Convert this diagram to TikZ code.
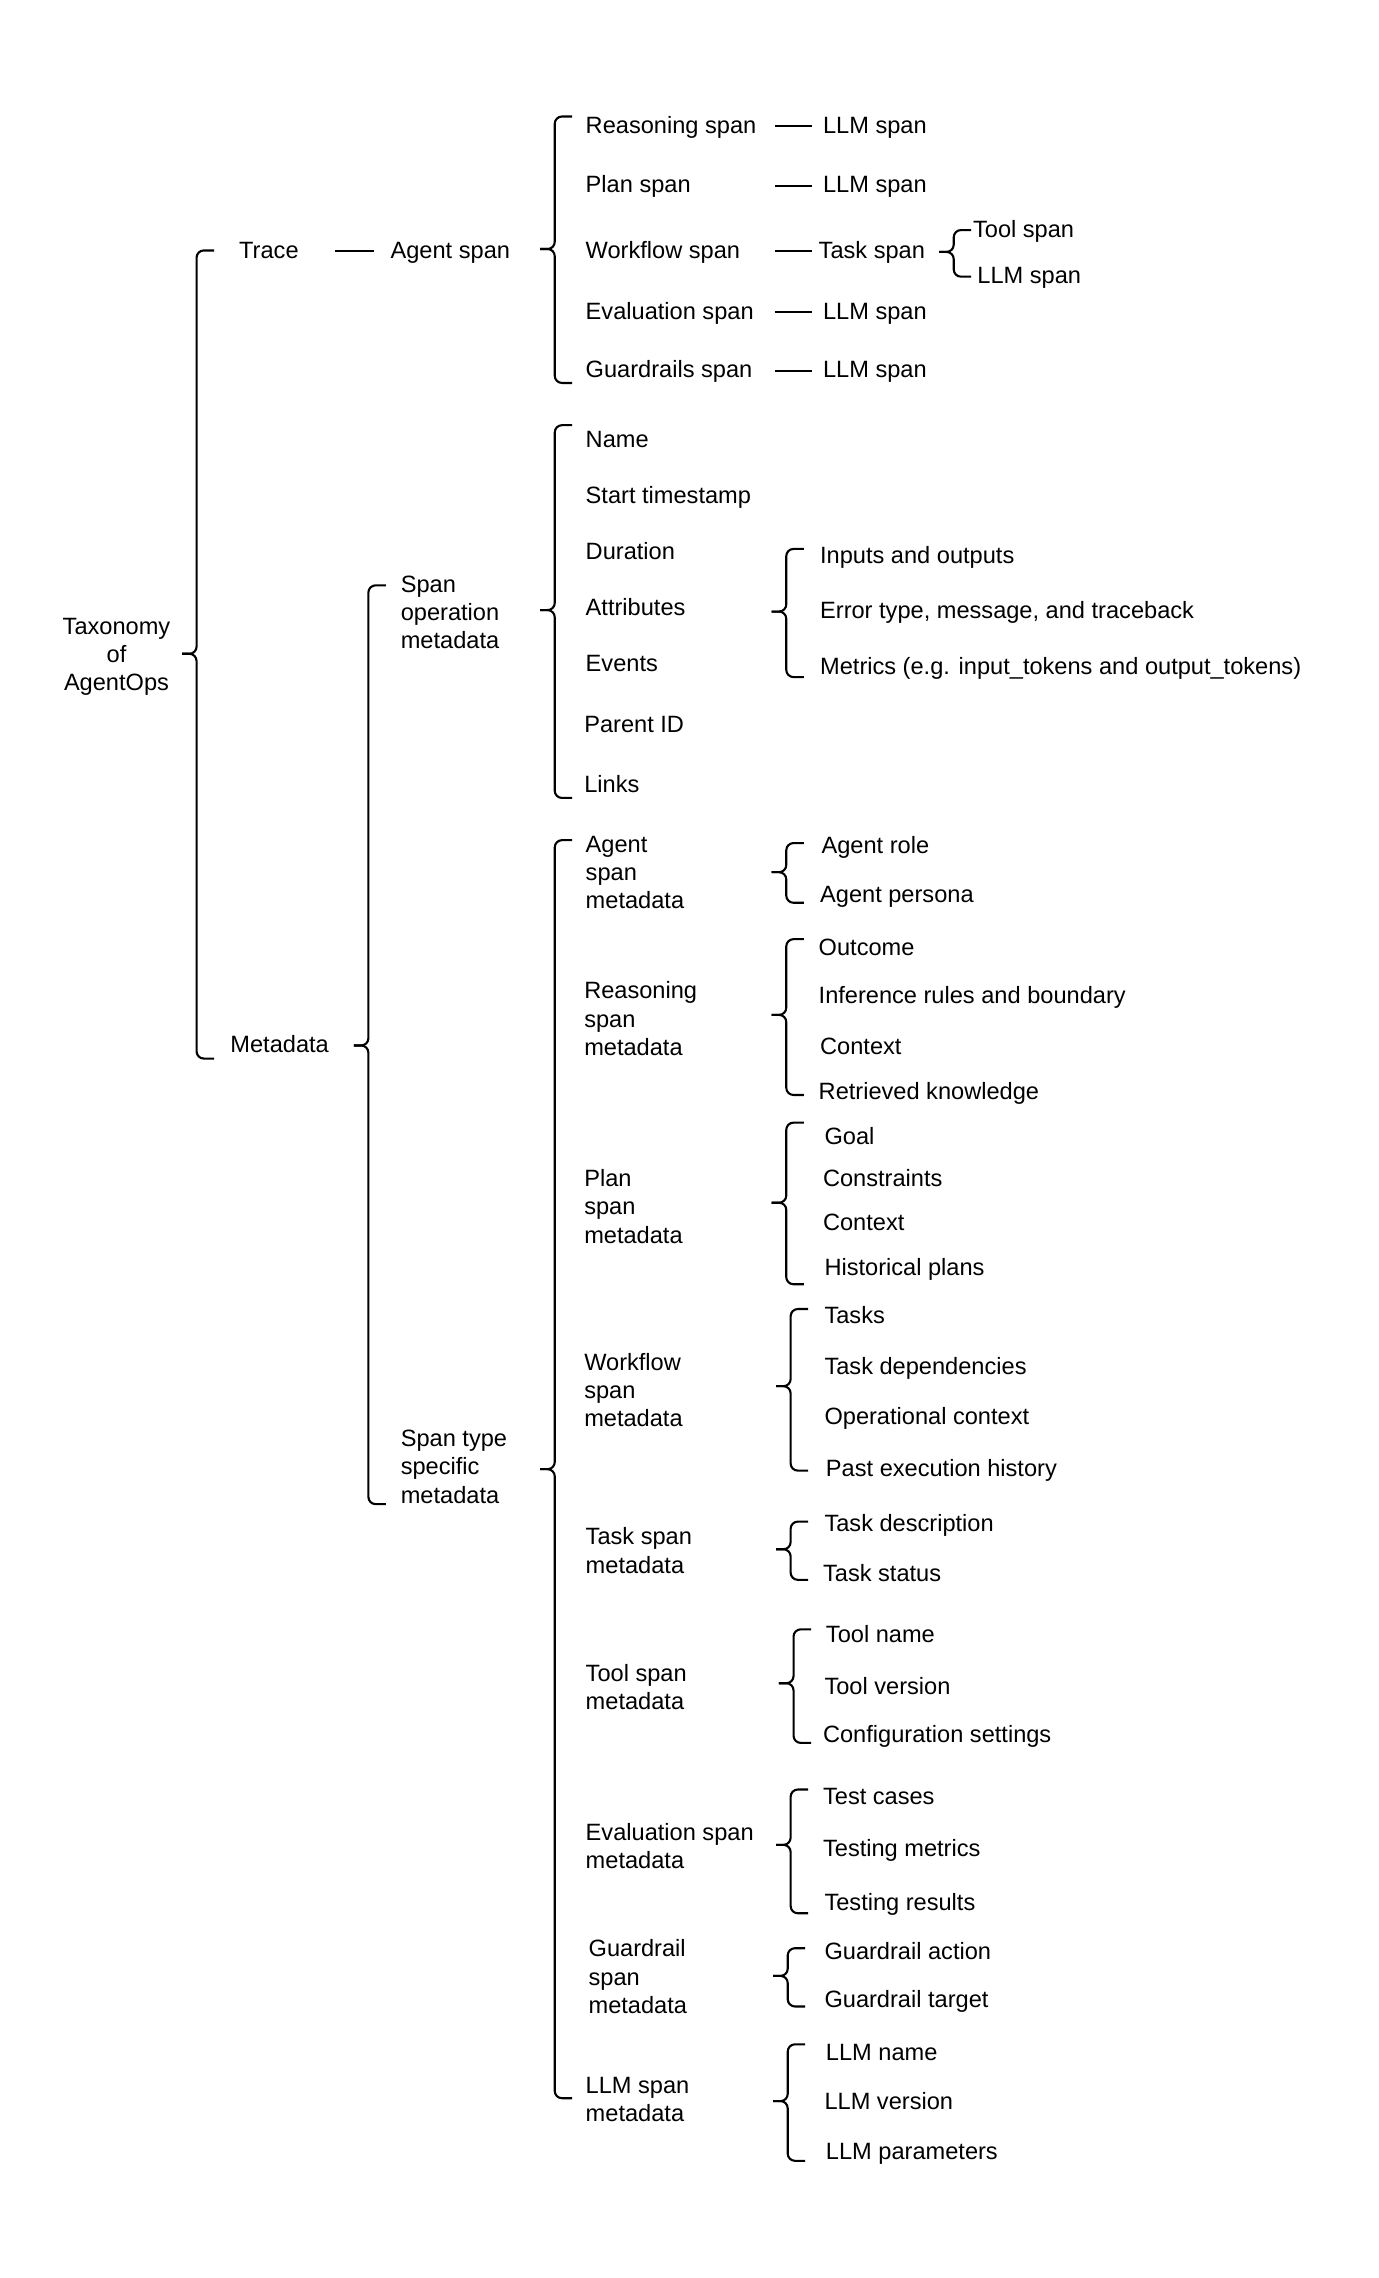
\documentclass[tikz,border=0pt]{standalone}
\usepackage{fontspec}
\setmainfont{Liberation Sans}
\usetikzlibrary{calc}
\newcommand\fsz{\fontsize{11.8}{14.1}\selectfont}
% curly brace: x, top, mid, bottom
\newcommand\curlyb[4]{%
  \draw[brc] (#1+12,#2) -- (#1,#2) -- (#1,#3) -- (#1-10,#3);
  \draw[brc] (#1-10,#3) -- (#1,#3) -- (#1,#4) -- (#1+12,#4);}
\tikzset{
  t/.style={anchor=west, inner sep=0pt, text height=0.73em, text depth=0pt, font=\fsz},
  m/.style={anchor=north west, inner sep=0pt, align=left, font=\fsz},
  ln/.style={line width=1.05pt},
  brc/.style={line width=1.05pt, rounded corners=3.6pt}
}
\begin{document}
\begin{tikzpicture}[x=0.728pt,y=-0.728pt]
\useasboundingbox (0,0) rectangle (946.4,1564.5);

% root
\node[anchor=north, inner sep=0pt, align=center, font=\fsz] (tax) at (80,424) {Taxonomy\\of\\AgentOps};
\curlyb{135}{172}{449}{727}

% Trace branch
\node[t] (trace) at (164,172.5) {Trace};
\node[t] (agent) at (268,172.5) {Agent span};
\draw[ln] ($(trace.east)+(25,0)$) -- ($(agent.west)+(-11,0)$);
\curlyb{381}{80}{171}{263}

\coordinate (cs) at (532,0);
\coordinate (ce) at (558,0);
\node[t] (rs) at (402,86.5) {Reasoning span};
\node[t] (ps) at (402,127.5) {Plan span};
\node[t] (ws) at (402,172.5) {Workflow span};
\node[t] (es) at (402,214.5) {Evaluation span};
\node[t] (gs) at (402,254.5) {Guardrails span};
\node[t] (l1) at (565,86.5) {LLM span};
\node[t] (l2) at (565,127.5) {LLM span};
\node[t] (ts) at (562,172.5) {Task span};
\node[t] (l3) at (565,214.5) {LLM span};
\node[t] (l4) at (565,254.5) {LLM span};
\draw[ln] (rs -| cs) -- (l1 -| ce);
\draw[ln] (ps -| cs) -- (l2 -| ce);
\draw[ln] (ws -| cs) -- (ts -| ce);
\draw[ln] (es -| cs) -- (l3 -| ce);
\draw[ln] (gs -| cs) -- (l4 -| ce);
\node[t] (tool) at (668,158) {Tool span};
\node[t] (l5) at (671,190) {LLM span};
\curlyb{655}{158}{173}{190}

% Metadata branch
\node[t] (meta) at (158,718) {Metadata};
\curlyb{253}{402}{718}{1033}

\node[m] (spo) at (275,395) {Span\\operation\\metadata};
\curlyb{381}{292}{419}{548}
\node[t] (name) at (402,302) {Name};
\node[t] (start) at (402,341) {Start timestamp};
\node[t] (dur) at (402,379) {Duration};
\node[t] (attr) at (402,418) {Attributes};
\node[t] (ev) at (402,456) {Events};
\node[t] (pid) at (401,498) {Parent ID};
\node[t] (links) at (401,539) {Links};
\curlyb{540}{377}{420}{465}
\node[t] (io) at (563,382) {Inputs and outputs};
\node[t] (err) at (563,420) {Error type, message, and traceback};
\node[t] (met) at (563,458) {Metrics (e.g. input\_tokens and output\_tokens)};

\node[m] (sts) at (275,982) {Span type\\specific\\metadata};
\curlyb{381}{577}{1009}{1441}

\node[m] (asm) at (402,574) {Agent\\span\\metadata};
\curlyb{540}{579}{599}{620}
\node[t] (a1) at (564,581) {Agent role};
\node[t] (a2) at (563,615) {Agent persona};

\node[m] (rsm) at (401,674) {Reasoning\\span\\metadata};
\curlyb{540}{645}{697}{752}
\node[t] (r1) at (562,651) {Outcome};
\node[t] (r2) at (562,684) {Inference rules and boundary};
\node[t] (r3) at (563,719) {Context};
\node[t] (r4) at (562,750) {Retrieved knowledge};

\node[m] (psm) at (401,803) {Plan\\span\\metadata};
\curlyb{540}{771}{826}{882}
\node[t] (p1) at (566,781) {Goal};
\node[t] (p2) at (565,810) {Constraints};
\node[t] (p3) at (565,840) {Context};
\node[t] (p4) at (566,871) {Historical plans};

\node[m] (wsm) at (401,929) {Workflow\\span\\metadata};
\curlyb{543}{899}{952}{1010}
\node[t] (w1) at (566,904) {Tasks};
\node[t] (w2) at (566,939) {Task dependencies};
\node[t] (w3) at (566,973) {Operational context};
\node[t] (w4) at (567,1009) {Past execution history};

\node[m] (tsm) at (402,1049) {Task span\\metadata};
\curlyb{543}{1045}{1064}{1085}
\node[t] (k1) at (566,1047) {Task description};
\node[t] (k2) at (565,1081) {Task status};

\node[m] (tlm) at (402,1143) {Tool span\\metadata};
\curlyb{545}{1119}{1156}{1197}
\node[t] (o1) at (567,1123) {Tool name};
\node[t] (o2) at (566,1159) {Tool version};
\node[t] (o3) at (565,1192) {Configuration settings};

\node[m] (esm) at (402,1252) {Evaluation span\\metadata};
\curlyb{543}{1229}{1267}{1314}
\node[t] (e1) at (565,1234) {Test cases};
\node[t] (e2) at (565,1270) {Testing metrics};
\node[t] (e3) at (566,1307) {Testing results};

\node[m] (gsm) at (404,1332) {Guardrail\\span\\metadata};
\curlyb{541}{1338}{1357}{1378}
\node[t] (g1) at (566,1341) {Guardrail action};
\node[t] (g2) at (566,1374) {Guardrail target};

\node[m] (lsm) at (402,1426) {LLM span\\metadata};
\curlyb{541}{1404}{1443}{1484}
\node[t] (m1) at (567,1410) {LLM name};
\node[t] (m2) at (566,1444) {LLM version};
\node[t] (m3) at (567,1478) {LLM parameters};
\end{tikzpicture}
\end{document}
